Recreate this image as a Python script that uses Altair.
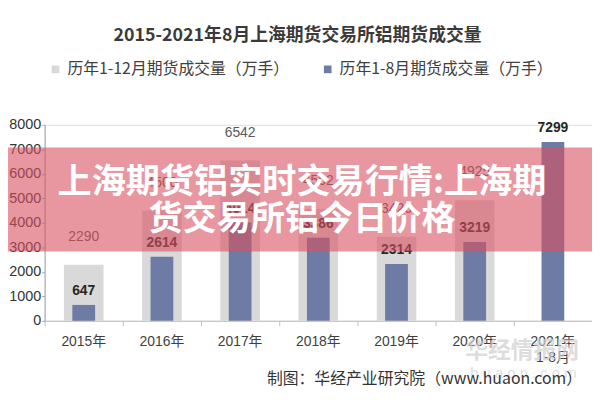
import altair as alt
import pandas as pd

years = ["2015年", "2016年", "2017年", "2018年", "2019年", "2020年", "2021年1-8月"]
full_year = [2290, 4500, 6542, 4562, 3426, 4925, None]
jan_aug = [647, 2614, 4014, 3386, 2314, 3219, 7299]
series_full = "历年1-12月期货成交量（万手）"
series_part = "历年1-8月期货成交量（万手）"
chart_title = "2015-2021年8月上海期货交易所铝期货成交量"
banner_lines = ["上海期货铝实时交易行情:上海期", "货交易所铝今日价格"]
footer = "制图：华经产业研究院（www.huaon.com）"
watermark = "华经情报网"
watermark2 = "h u a o n . c o m"

rows = []
for yr, f, p in zip(years, full_year, jan_aug):
    if f is not None:
        rows.append({"year": yr, "series": series_full, "value": f})
    rows.append({"year": yr, "series": series_part, "value": p})
df = pd.DataFrame(rows)

W, H = 553, 198
GRAY = "#D9D9D9"
BLUE = "#6E7BA5"
FONT = "Liberation Sans, Noto Sans CJK SC"

x_enc = alt.X(
    "year:N",
    sort=years,
    title=None,
    scale=alt.Scale(paddingInner=0, paddingOuter=0),
    axis=alt.Axis(
        labelAngle=0,
        bandPosition=0,
        labelFontSize=14,
        labelFont=FONT,
        labelColor="#404040",
        labelPadding=9,
        labelLineHeight=16,
        labelExpr="datum.label == '2021年1-8月' ? ['2021年', '1-8月'] : datum.label",
        domainColor="#BFBFBF",
        tickColor="#BFBFBF",
        tickSize=5,
        labelBound=False,
        labelOverlap=False,
    ),
)
y_enc = alt.Y(
    "value:Q",
    title=None,
    scale=alt.Scale(domain=[0, 8000], nice=False),
    axis=alt.Axis(
        values=list(range(0, 8001, 1000)),
        format="d",
        labelFontSize=14.5,
        labelFont=FONT,
        labelColor="#333333",
        domainColor="#A6A6A6",
        tickColor="#A6A6A6",
        tickSize=3,
        labelPadding=1,
        grid=False,
    ),
)
color_enc = alt.Color(
    "series:N",
    scale=alt.Scale(domain=[series_full, series_part], range=[GRAY, BLUE]),
    legend=alt.Legend(
        title=None,
        orient="none",
        legendX=3,
        legendY=-64,
        direction="horizontal",
        symbolType="square",
        symbolSize=60,
        symbolStrokeWidth=0,
        labelFontSize=16,
        labelFont="Noto Sans CJK SC",
        labelColor="#404040",
        columnPadding=30,
        labelLimit=400,
    ),
)

base = alt.Chart(df)
gray_bars = base.transform_filter(alt.datum.series == series_full).mark_bar(size=40).encode(
    x=x_enc, y=y_enc, color=color_enc
)
blue_bars = base.transform_filter(alt.datum.series == series_part).mark_bar(size=23).encode(
    x=x_enc, y=y_enc, color=color_enc
)
gray_labels = base.transform_filter(alt.datum.series == series_full).mark_text(
    fontSize=14, font=FONT, color="#595959", dy=-28, baseline="middle"
).encode(x=x_enc, y=y_enc, text="value:Q")
blue_labels = base.transform_filter(alt.datum.series == series_part).mark_text(
    fontSize=14, font=FONT, fontWeight="bold", color="#262626", dy=-14, baseline="middle"
).encode(x=x_enc, y=y_enc, text="value:Q")

one = pd.DataFrame({"k": [0]})
band = alt.Chart(one).mark_rect(color="#D9505F", opacity=0.6).encode(
    x=alt.value(-45), x2=alt.value(W + 10), y=alt.value(23), y2=alt.value(128)
)
band_txt = alt.Chart(one).mark_text(
    font="Noto Sans CJK SC", fontWeight="bold", fontSize=34.5, color="white",
    align="center", baseline="middle", lineHeight=37,
).encode(x=alt.value(260), y=alt.value(59), text=alt.value(banner_lines))

wm = alt.Chart(one).mark_text(
    font="Noto Sans CJK SC", fontSize=23, fontWeight="bold", color="#D0D0D0", opacity=0.7,
    align="left", baseline="middle",
).encode(x=alt.value(425), y=alt.value(229), text=alt.value(watermark))
wm2 = alt.Chart(one).mark_text(
    font=FONT, fontSize=15, color="#D8D8D8", opacity=0.8, align="left", baseline="middle",
).encode(x=alt.value(430), y=alt.value(251), text=alt.value(watermark2))

foot = alt.Chart(one).mark_text(
    font="Noto Sans CJK SC", fontSize=16, color="#333333", align="right", baseline="middle",
).encode(x=alt.value(543), y=alt.value(257), text=alt.value(footer))

chart = alt.layer(
    gray_bars, blue_bars, gray_labels, blue_labels, wm, wm2, band, band_txt, foot
).properties(
    width=W,
    height=H,
    title=alt.TitleParams(
        chart_title,
        fontSize=18,
        font="Noto Sans CJK SC",
        fontWeight="bold",
        color="#3A3A3A",
        anchor="middle",
        dx=-21,
        offset=17,
    ),
    autosize=alt.AutoSizeParams(type="none"),
    padding={"left": 37, "top": 116, "right": 0, "bottom": 76},
).configure_view(stroke=None).configure(background="white")

chart.save("out.html", embed_options={"renderer": "svg", "actions": False})
